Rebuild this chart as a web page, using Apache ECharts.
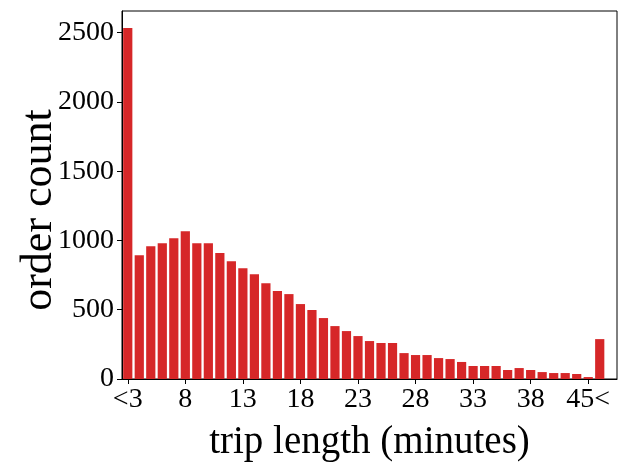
<!DOCTYPE html>
<html>
<head>
<meta charset="utf-8">
<script src="https://cdn.jsdelivr.net/npm/echarts@6/dist/echarts.min.js"></script>
<style>
  html, body { margin: 0; padding: 0; background: #fff; }
  #chart { width: 627px; height: 467px; }
</style>
</head>
<body>
<div id="chart"></div>
<script>
// trip length bins, one bar per bin (last slot is empty)
var categories = ["<3"];
for (var m = 4; m <= 45; m++) categories.push(String(m));

var orderCount = [
  2535, 894, 959, 981, 1017, 1067, 981, 981, 909, 851,
  800, 757, 692, 635, 613, 541, 498, 440, 382, 346,
  310, 274, 260, 260, 187, 173, 173, 151, 144, 123,
  94, 94, 94, 65, 79, 65, 50, 43, 43, 36,
  14, 288, 0
];

var xTickLabels = ["<3", "8", "13", "18", "23", "28", "33", "38", "45<"];
var yTicks = [0, 500, 1000, 1500, 2000, 2500];

var chart = echarts.init(document.getElementById("chart"));
var font = "Liberation Serif";

var option = {
  animation: false,
  grid: {
    left: 122,
    right: 10,
    top: 11,
    bottom: 88,
    outerBoundsMode: "none",
    containLabel: false,
    show: true,
    borderColor: "#000",
    borderWidth: 1,
    backgroundColor: "transparent"
  },
  xAxis: {
    type: "category",
    data: categories,
    name: "trip length (minutes)",
    nameLocation: "middle",
    nameGap: 44,
    nameMoveOverlap: false,
    nameTextStyle: { fontFamily: font, fontSize: 39, color: "#000" },
    axisLine: { show: true, lineStyle: { color: "#000", width: 1 } },
    axisTick: {
      show: true,
      alignWithLabel: true,
      length: 5,
      interval: function (i) { return i % 5 === 0; },
      lineStyle: { color: "#000" }
    },
    axisLabel: {
      interval: function (i) { return i % 5 === 0; },
      formatter: function (v, i) { return xTickLabels[i / 5] || ""; },
      fontFamily: font,
      fontSize: 28,
      color: "#000",
      margin: 7
    },
    splitLine: { show: false }
  },
  yAxis: {
    type: "value",
    min: 0,
    max: 2657,
    name: "order count",
    nameLocation: "middle",
    nameGap: 61,
    nameMoveOverlap: false,
    nameTextStyle: { fontFamily: font, fontSize: 44, color: "#000", padding: [0, 30, 0, 0] },
    axisLine: { show: true, lineStyle: { color: "#000", width: 1 } },
    axisTick: {
      show: true,
      length: 5,
      customValues: yTicks,
      lineStyle: { color: "#000" }
    },
    axisLabel: {
      customValues: yTicks,
      formatter: function (v) { return String(v); },
      fontFamily: font,
      fontSize: 28,
      color: "#000",
      margin: 8
    },
    splitLine: { show: false }
  },
  series: [
    {
      type: "bar",
      data: orderCount,
      barCategoryGap: "20%",
      itemStyle: { color: "#d62728" }
    }
  ]
};
chart.setOption(option);
</script>
</body>
</html>
